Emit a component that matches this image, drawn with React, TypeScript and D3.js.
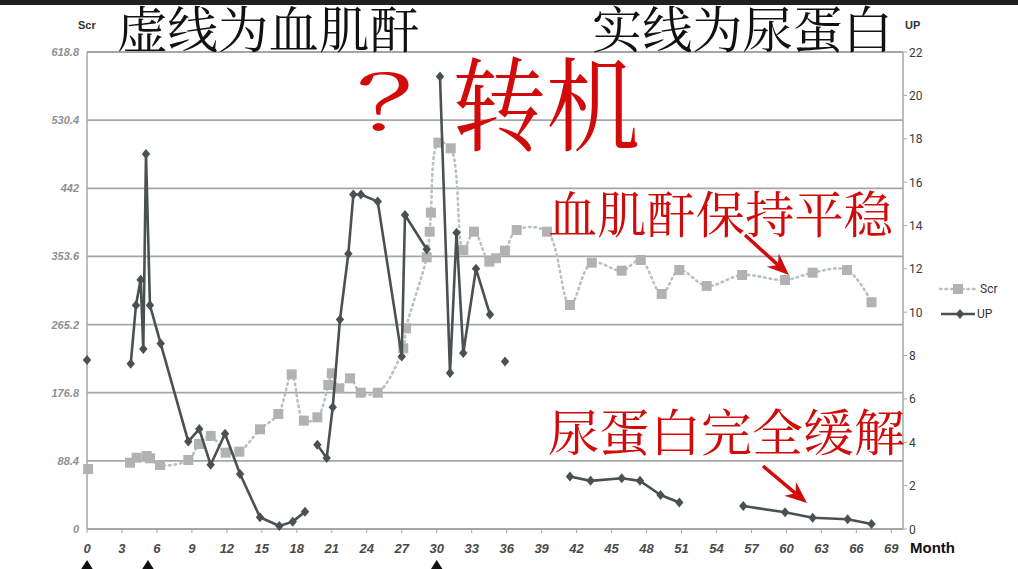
import React from "react";
import * as d3 from "d3";

// ---- data ----
const leftTicks = [0, 88.4, 176.8, 265.2, 353.6, 442, 530.4, 618.8];
const rightTicks = [0, 2, 4, 6, 8, 10, 12, 14, 16, 18, 20, 22];
const monthTicks = [0, 3, 6, 9, 12, 15, 18, 21, 24, 27, 30, 33, 36, 39, 42, 45, 48, 51, 54, 57, 60, 63, 66, 69];

// UP (urine protein), null = gap in the line
const upMonths = [0, 0, 3.75, 4.2, 4.6, 4.83, 5.06, 5.4, 6.32, 8.69, 9.63, 10.61, 11.84, 13.13, 14.84, 16.5, 17.65, 18.7, 18.7,
  19.76, 20.56, 21.08, 21.7, 22.42, 22.85, 23.5, 24.94, 27.0, 27.28, 29.14, 29.14,
  30.28, 31.14, 31.7, 32.28, 33.37, 34.57, 34.57, 35.86, 35.86,
  41.43, 43.2, 45.87, 47.44, 49.2, 50.81, 50.81, 56.3, 59.88, 62.25, 65.25, 67.3];
const upValues = [7.8, null, 7.62, 10.32, 11.5, 8.3, 17.3, 10.32, 8.55, 4.03, 4.61, 2.96, 4.39, 2.54, 0.54, 0.14, 0.34, 0.8, null,
  3.88, 3.27, 5.62, 9.66, 12.7, 15.43, 15.43, 15.1, 7.96, 14.48, 12.9, null,
  20.87, 7.2, 13.66, 8.12, 12.0, 9.89, null, 7.73, null,
  2.42, 2.22, 2.34, 2.22, 1.57, 1.22, null, 1.06, 0.77, 0.52, 0.45, 0.23];

// Scr (serum creatinine)
const scrMonths = [0.1, 0.1, 3.69, 4.26, 5.12, 5.4, 6.26, 8.69, 9.61, 10.61, 11.9, 13.07, 14.84, 16.41, 17.56, 18.6, 19.76,
  20.7, 21.0, 21.64, 22.56, 23.48, 24.94, 27.13, 27.37, 29.14, 29.4, 29.5, 30.14, 31.2, 32.28, 33.2, 34.51, 35.09,
  35.86, 36.86, 39.46, 41.43, 43.3, 45.87, 47.5, 49.3, 50.81, 53.16, 56.2, 59.88, 62.25, 65.2, 67.3];
const scrValues = [77.8, null, 86.0, 92.5, 94.7, 91.7, 83.0, 89.5, 110.3, 120.7, 99.0, 100.3, 129.3, 149.2, 200.7, 140.5, 144.9,
  186.8, 202, 182.5, 195.5, 176.8, 176.8, 234.4, 260.4, 352.5, 385.7, 410.4, 501.2, 493.9, 362, 385.7, 346.8, 351.2,
  361, 387.9, 385.7, 290.6, 345.5, 335.1, 349, 304.9, 336, 315.3, 329.5, 323, 332.5, 336, 294.1];

const markerMonths = [0, 5.23, 30];

type P = { m: number; v: number | null };

export default function App() {
  const W = 1018, H = 569;
  const x = d3.scaleLinear().domain([0, 70]).range([87, 903]);
  const yL = d3.scaleLinear().domain([0, 618.8]).range([529, 52]);
  const yR = d3.scaleLinear().domain([0, 22]).range([529, 52]);

  const up: P[] = upMonths.map((m, i) => ({ m, v: upValues[i] }));
  const scr: P[] = scrMonths.map((m, i) => ({ m, v: scrValues[i] }));

  const upLine = d3.line<P>().defined(d => d.v != null).x(d => x(d.m)).y(d => yR(d.v as number));
  const scrLine = d3.line<P>().defined(d => d.v != null).x(d => x(d.m)).y(d => yL(d.v as number))
    .curve(d3.curveCatmullRom.alpha(0.5));

  const diamond = (cx: number, cy: number) => `M${cx},${cy - 5}L${cx + 4.2},${cy}L${cx},${cy + 5}L${cx - 4.2},${cy}Z`;

  const arrow = (x1: number, y1: number, x2: number, y2: number) => {
    const dx = x2 - x1, dy = y2 - y1;
    const L = Math.hypot(dx, dy);
    const ux = dx / L, uy = dy / L;
    const px = -uy, py = ux;
    const hl = 22, hw = 9, notch = 15;
    const bx = x2 - ux * hl, by = y2 - uy * hl;
    const nx = x2 - ux * notch, ny = y2 - uy * notch;
    return {
      line: `M${x1},${y1}L${nx},${ny}`,
      head: `M${x2},${y2}L${bx + px * hw},${by + py * hw}L${nx},${ny}L${bx - px * hw},${by - py * hw}Z`,
    };
  };
  const a1 = arrow(745, 235, 789, 275);
  const a2 = arrow(763, 466, 807, 503);

  const cjk = "'Noto Serif CJK SC','Noto Sans CJK SC',serif";
  const red = "#d20a0a";
  const gridColor = "#a3a7a8";

  return (
    <svg width={W} height={H} style={{ position: "absolute", left: 0, top: 0, background: "#fff" }}>
      <rect x={0} y={0} width={W} height={H} fill="#fff" />
      <rect x={0} y={0} width={W} height={5} fill="#202020" />

      {/* gridlines */}
      {leftTicks.map(t => (
        <line key={"g" + t} x1={x(0)} x2={903} y1={yL(t)} y2={yL(t)} stroke={gridColor} strokeWidth={1.8} />
      ))}
      <line x1={x(0)} x2={x(0)} y1={52} y2={529} stroke={gridColor} strokeWidth={1.5} />
      <line x1={903} x2={903} y1={52} y2={529} stroke={gridColor} strokeWidth={1.5} />

      {/* left axis labels */}
      {leftTicks.map(t => (
        <text key={"l" + t} x={79} y={yL(t) + 4} textAnchor="end" fontFamily="'Liberation Sans',Arial,sans-serif"
          fontSize={11} fontStyle="italic" fontWeight="bold" fill="#8f8f8f">{t}</text>
      ))}
      {/* right axis */}
      {rightTicks.map(t => (
        <g key={"r" + t}>
          <line x1={903} x2={907} y1={yR(t)} y2={yR(t)} stroke={gridColor} strokeWidth={1} />
          <text x={909} y={yR(t) + 4.5} fontFamily="Roboto,'Liberation Sans',sans-serif" fontSize={12}
            fill="#3a3a3a">{t}</text>
        </g>
      ))}
      {/* bottom axis */}
      {monthTicks.map(t => (
        <g key={"b" + t}>
          <line x1={x(t)} x2={x(t)} y1={529} y2={533} stroke={gridColor} strokeWidth={1} />
          <text x={x(t)} y={553} textAnchor="middle" fontFamily="'Liberation Sans',Arial,sans-serif"
            fontSize={13} fontStyle="italic" fontWeight="bold" fill="#4a4a4a">{t}</text>
        </g>
      ))}
      <text x={910} y={553} fontFamily="'Liberation Sans',Arial,sans-serif" fontSize={15} fontWeight="bold" fill="#111">Month</text>
      <text x={78} y={29} fontFamily="'Liberation Sans',Arial,sans-serif" fontSize={11} fontWeight="bold" fill="#333">Scr</text>
      <text x={905} y={29} fontFamily="'Liberation Sans',Arial,sans-serif" fontSize={11} fontWeight="bold" fill="#333">UP</text>

      {/* Scr series */}
      <path d={scrLine(scr) || ""} fill="none" stroke="#b9c1c5" strokeWidth={2.6} strokeDasharray="1.5,4" strokeLinecap="round" />
      {scr.filter(d => d.v != null).map((d, i) => (
        <rect key={"s" + i} x={x(d.m) - 5} y={yL(d.v as number) - 5} width={10} height={10} fill="#b2b2b2" />
      ))}

      {/* UP series */}
      <path d={upLine(up) || ""} fill="none" stroke="#4b5152" strokeWidth={2.6} strokeLinejoin="round" />
      {up.filter(d => d.v != null).map((d, i) => (
        <path key={"u" + i} d={diamond(x(d.m), yR(d.v as number))} fill="#4b5152" />
      ))}

      {/* legend */}
      <line x1={940} x2={976} y1={289} y2={289} stroke="#b9c1c5" strokeWidth={2.6} strokeDasharray="1.5,4" strokeLinecap="round" />
      <rect x={953} y={284} width={10} height={10} fill="#b2b2b2" />
      <text x={980} y={293} fontFamily="Roboto,'Liberation Sans',sans-serif" fontSize={12} fill="#333">Scr</text>
      <line x1={941} x2={975} y1={314} y2={314} stroke="#4b5152" strokeWidth={2.4} />
      <path d={diamond(960, 314)} fill="#4b5152" />
      <text x={977} y={318} fontFamily="Roboto,'Liberation Sans',sans-serif" fontSize={12} fill="#333">UP</text>

      {/* event markers */}
      {markerMonths.map(m => (
        <path key={"t" + m} d={`M${x(m)},${560}L${x(m) + 7},${571}L${x(m) - 7},${571}Z`} fill="#111" />
      ))}

      {/* annotations */}
      <text x={117} y={48} fontFamily={cjk} fontSize={50} fill="#111" textLength={303} lengthAdjust="spacingAndGlyphs">虚线为血肌酐</text>
      <text x={592} y={48} fontFamily={cjk} fontSize={50} fill="#111" textLength={301} lengthAdjust="spacingAndGlyphs">实线为尿蛋白</text>
      <text transform="translate(356,129.5) scale(1.4,0.92)" x={0} y={0} fontFamily={cjk} fontSize={82} fill={red}>？</text>
      <text x={452} y={143} fontFamily={cjk} fontSize={102} fill={red} textLength={188} lengthAdjust="spacingAndGlyphs">转机</text>
      <text x={548} y={233} fontFamily={cjk} fontSize={50} fill={red} textLength={345} lengthAdjust="spacingAndGlyphs">血肌酐保持平稳</text>
      <text x={548} y={451} fontFamily={cjk} fontSize={50} fill={red} textLength={357} lengthAdjust="spacingAndGlyphs">尿蛋白完全缓解</text>

      <path d={a1.line} stroke={red} strokeWidth={3.5} fill="none" />
      <path d={a1.head} fill={red} />
      <path d={a2.line} stroke={red} strokeWidth={3.5} fill="none" />
      <path d={a2.head} fill={red} />
    </svg>
  );
}
